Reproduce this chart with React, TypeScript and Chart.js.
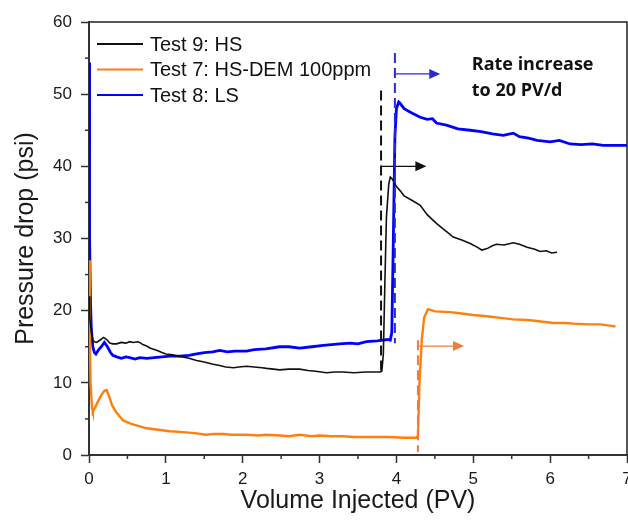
import React, { useEffect, useRef } from "react";
import { Chart, registerables } from "chart.js";

Chart.register(...registerables);

// ---- Data ----
const test9X = [0, 0.01, 0.03, 0.05, 0.07, 0.1, 0.14, 0.19, 0.23, 0.27, 0.31, 0.36, 0.42, 0.48, 0.53, 0.58, 0.63, 0.66, 0.7, 0.75, 0.8, 0.83, 0.88, 0.95, 1.0, 1.09, 1.15, 1.22, 1.3, 1.4, 1.5, 1.6, 1.7, 1.78, 1.88, 1.95, 2.05, 2.15, 2.25, 2.31, 2.4, 2.48, 2.6, 2.74, 2.85, 2.95, 3.09, 3.2, 3.3, 3.45, 3.6, 3.7, 3.79, 3.81, 3.83, 3.85, 3.87, 3.9, 3.92, 3.95, 4.0, 4.05, 4.1, 4.2, 4.31, 4.4, 4.52, 4.6, 4.74, 4.85, 4.96, 5.05, 5.11, 5.18, 5.25, 5.3, 5.4, 5.52, 5.6, 5.7, 5.8, 5.87, 5.95, 6.02, 6.09];
const test9Y = [22, 19, 17, 15.9, 15.7, 15.6, 15.9, 16.3, 16.0, 15.5, 15.4, 15.4, 15.6, 15.5, 15.7, 15.6, 15.7, 15.6, 15.3, 15.1, 14.8, 14.7, 14.5, 14.2, 14.0, 13.9, 13.7, 13.6, 13.4, 13.1, 12.9, 12.6, 12.4, 12.2, 12.1, 12.2, 12.3, 12.2, 12.1, 12.0, 11.9, 11.8, 11.9, 11.9, 11.7, 11.6, 11.4, 11.5, 11.5, 11.4, 11.5, 11.5, 11.5, 11.6, 14, 24, 33, 37.5, 38.5, 38.2, 37.2, 36.6, 35.9, 35.3, 34.6, 33.3, 32.1, 31.4, 30.2, 29.8, 29.3, 28.8, 28.4, 28.6, 29.0, 29.2, 29.1, 29.4, 29.2, 28.8, 28.5, 28.2, 28.3, 28.0, 28.1];

const test7X = [0, 0.01, 0.02, 0.04, 0.05, 0.08, 0.12, 0.16, 0.2, 0.23, 0.26, 0.3, 0.35, 0.44, 0.55, 0.65, 0.75, 0.9, 1.05, 1.18, 1.3, 1.4, 1.52, 1.62, 1.75, 1.85, 2.05, 2.2, 2.3, 2.49, 2.6, 2.74, 2.9, 3.0, 3.15, 3.3, 3.45, 3.6, 3.75, 3.9, 4.1, 4.26, 4.28, 4.3, 4.33, 4.36, 4.41, 4.5, 4.7, 4.85, 5.0, 5.2, 5.35, 5.52, 5.7, 5.8, 6.04, 6.2, 6.3, 6.5, 6.65, 6.8, 6.85];
const test7Y = [27, 18, 10, 6.5, 6.0, 6.6, 7.5, 8.3, 8.9, 9.0, 8.2, 6.9, 6.0, 4.8, 4.3, 4.0, 3.7, 3.5, 3.3, 3.2, 3.1, 3.0, 2.8, 2.9, 2.9, 2.8, 2.8, 2.7, 2.8, 2.7, 2.6, 2.8, 2.6, 2.7, 2.6, 2.6, 2.5, 2.5, 2.5, 2.5, 2.4, 2.4, 2.6, 10, 16, 19, 20.2, 19.9, 19.8, 19.6, 19.4, 19.2, 19.0, 18.8, 18.7, 18.6, 18.3, 18.3, 18.2, 18.1, 18.1, 17.9, 17.8];

const test8X = [0, 0.005, 0.01, 0.02, 0.03, 0.05, 0.07, 0.09, 0.12, 0.16, 0.2, 0.24, 0.28, 0.31, 0.36, 0.42, 0.48, 0.53, 0.6, 0.66, 0.75, 0.85, 0.95, 1.05, 1.18, 1.3, 1.4, 1.5, 1.61, 1.7, 1.8, 1.9, 2.05, 2.15, 2.3, 2.48, 2.6, 2.74, 2.9, 3.05, 3.26, 3.4, 3.5, 3.61, 3.75, 3.89, 3.92, 3.94, 3.96, 3.98, 4.0, 4.03, 4.05, 4.1, 4.2, 4.31, 4.4, 4.47, 4.52, 4.65, 4.8, 4.96, 5.1, 5.25, 5.39, 5.52, 5.6, 5.72, 5.83, 6.0, 6.12, 6.26, 6.4, 6.55, 6.69, 6.85, 7.0];
const test8Y = [54.4, 42, 30, 21, 17.5, 15, 14.2, 14.0, 14.5, 15.0, 15.6, 15.0, 14.2, 13.8, 13.6, 13.4, 13.6, 13.5, 13.3, 13.5, 13.4, 13.5, 13.6, 13.7, 13.7, 13.8, 14.0, 14.2, 14.3, 14.5, 14.3, 14.4, 14.4, 14.6, 14.7, 15.0, 15.0, 14.8, 15.0, 15.2, 15.4, 15.5, 15.4, 15.7, 15.8, 16.0, 15.9, 17, 30, 44, 48, 48.9, 48.7, 48.0, 47.4, 46.8, 46.5, 46.6, 46.0, 45.7, 45.2, 45.0, 44.8, 44.5, 44.3, 44.6, 44.1, 43.9, 43.6, 43.4, 43.6, 43.1, 43.0, 43.1, 42.9, 42.9, 42.9];

const seriesLabels = ["Test 9: HS", "Test 7: HS-DEM 100ppm", "Test 8: LS"];
const seriesColors = ["#111111", "#ff7f0e", "#0000ff"];
const seriesWidths = [1.6, 2.4, 2.8];

// Rate-change markers: dashed vertical line x, top y, bottom y; arrow end x, arrow y
const markerX = [3.8, 3.98, 4.28];
const markerTop = [50.5, 55.7, 15.9];
const markerBottom = [11.5, 15.5, 0.4];
const arrowEndX = [4.39, 4.57, 4.88];
const arrowY = [40, 52.8, 15.1];
const markerColors = ["#111111", "#2a2ad0", "#ee7d3a"];

const noteLines = ["Rate increase", "to 20 PV/d"];
const noteX = 4.98;
const noteY = [54.1, 50.4];

const xTicks = [0, 1, 2, 3, 4, 5, 6, 7];
const yTicks = [0, 10, 20, 30, 40, 50, 60];

const toPoints = (xs: number[], ys: number[]) => xs.map((x, i) => ({ x, y: ys[i] }));

const overlayPlugin = {
  id: "overlay",
  afterDatasetsDraw(chart: any) {
    const { ctx, chartArea, scales } = chart;
    const xs = scales.x;
    const ys = scales.y;
    ctx.save();
    // frame top/right
    ctx.strokeStyle = "#222";
    ctx.lineWidth = 1.5;
    ctx.beginPath();
    ctx.moveTo(chartArea.left, chartArea.top);
    ctx.lineTo(chartArea.right, chartArea.top);
    ctx.lineTo(chartArea.right, chartArea.bottom);
    ctx.stroke();

    // minor ticks
    ctx.strokeStyle = "#333";
    ctx.lineWidth = 1.5;
    for (let i = 0; i < xTicks.length - 1; i++) {
      const px = xs.getPixelForValue((xTicks[i] + xTicks[i + 1]) / 2);
      ctx.beginPath();
      ctx.moveTo(px, chartArea.bottom);
      ctx.lineTo(px, chartArea.bottom + 4);
      ctx.stroke();
    }
    for (let i = 0; i < yTicks.length - 1; i++) {
      const py = ys.getPixelForValue((yTicks[i] + yTicks[i + 1]) / 2);
      ctx.beginPath();
      ctx.moveTo(chartArea.left, py);
      ctx.lineTo(chartArea.left - 4, py);
      ctx.stroke();
    }

    // markers
    for (let i = 0; i < markerX.length; i++) {
      const px = xs.getPixelForValue(markerX[i]);
      const pt = ys.getPixelForValue(markerTop[i]);
      const pb = ys.getPixelForValue(markerBottom[i]);
      ctx.strokeStyle = markerColors[i];
      ctx.fillStyle = markerColors[i];
      ctx.lineWidth = 2;
      ctx.setLineDash([10, 5]);
      ctx.beginPath();
      ctx.moveTo(px, pt);
      ctx.lineTo(px, pb);
      ctx.stroke();
      ctx.setLineDash([]);
      const ay = ys.getPixelForValue(arrowY[i]);
      const ax = xs.getPixelForValue(arrowEndX[i]);
      ctx.lineWidth = 1.3;
      ctx.beginPath();
      ctx.moveTo(px, ay);
      ctx.lineTo(ax - 10, ay);
      ctx.stroke();
      ctx.beginPath();
      ctx.moveTo(ax, ay);
      ctx.lineTo(ax - 11, ay - 5);
      ctx.lineTo(ax - 11, ay + 5);
      ctx.closePath();
      ctx.fill();
    }

    // note
    ctx.fillStyle = "#111";
    ctx.font = "bold 18px 'Open Sans', sans-serif";
    ctx.textAlign = "left";
    ctx.textBaseline = "middle";
    noteLines.forEach((t, i) => {
      ctx.fillText(t, xs.getPixelForValue(noteX), ys.getPixelForValue(noteY[i]));
    });

    // legend
    ctx.font = "20px 'Liberation Sans', Arial, sans-serif";
    ctx.textBaseline = "middle";
    const lx = chartArea.left + 8;
    const ly = chartArea.top + 22;
    chart.data.datasets.forEach((ds: any, i: number) => {
      const y = ly + i * 25.5;
      ctx.strokeStyle = ds.borderColor;
      ctx.lineWidth = 2;
      ctx.beginPath();
      ctx.moveTo(lx, y);
      ctx.lineTo(lx + 46, y);
      ctx.stroke();
      ctx.fillStyle = "#111";
      ctx.fillText(ds.label, lx + 53, y + 1);
    });
    ctx.restore();
  },
};

export default function App() {
  const ref = useRef<HTMLCanvasElement | null>(null);
  useEffect(() => {
    document.body.style.margin = "0";
    const canvas = ref.current;
    if (!canvas) return;
    const tickFont = { family: "'Liberation Sans', Arial, sans-serif", size: 17 };
    const chart = new Chart(canvas, {
      type: "scatter",
      data: {
        datasets: [
          { label: seriesLabels[0], data: toPoints(test9X, test9Y), borderColor: seriesColors[0], borderWidth: seriesWidths[0] },
          { label: seriesLabels[1], data: toPoints(test7X, test7Y), borderColor: seriesColors[1], borderWidth: seriesWidths[1] },
          { label: seriesLabels[2], data: toPoints(test8X, test8Y), borderColor: seriesColors[2], borderWidth: seriesWidths[2] },
        ].map((d) => ({ ...d, showLine: true, pointRadius: 0, tension: 0, fill: false, backgroundColor: d.borderColor })),
      },
      options: {
        responsive: false,
        animation: false,
        layout: { padding: { top: 22, right: 1, left: 0, bottom: 0 } },
        plugins: { legend: { display: false }, tooltip: { enabled: false } },
        scales: {
          x: {
            type: "linear",
            min: 0,
            max: 7,
            afterBuildTicks: (s: any) => { s.ticks = xTicks.map((v) => ({ value: v })); },
            afterFit: (s: any) => { s.height = 66; s.paddingLeft = 0; s.paddingRight = 0; },
            ticks: { font: tickFont, color: "#1a1a1a", padding: 6, maxRotation: 0, autoSkip: false },
            grid: { drawOnChartArea: false, tickLength: 8, tickWidth: 1.5, tickColor: "#333" },
            border: { display: true, color: "#333", width: 2 },
            title: { display: true, text: "Volume Injected (PV)", font: { family: "'Liberation Sans', Arial, sans-serif", size: 25 }, color: "#1a1a1a", padding: { top: 0, bottom: 5 } },
          },
          y: {
            type: "linear",
            min: 0,
            max: 60,
            afterBuildTicks: (s: any) => { s.ticks = yTicks.map((v) => ({ value: v })); },
            afterFit: (s: any) => { s.width = 89; s.paddingTop = 0; s.paddingBottom = 0; },
            ticks: { font: tickFont, color: "#1a1a1a", padding: 9, autoSkip: false },
            grid: { drawOnChartArea: false, tickLength: 8, tickWidth: 1.5, tickColor: "#333" },
            border: { display: true, color: "#333", width: 2 },
            title: { display: true, text: "Pressure drop (psi)", font: { family: "'Liberation Sans', Arial, sans-serif", size: 25 }, color: "#1a1a1a", padding: { top: 11, bottom: 0 } },
          },
        },
      },
      plugins: [overlayPlugin],
    } as any);
    return () => chart.destroy();
  }, []);
  return (
    <canvas
      ref={ref}
      width={628}
      height={521}
      style={{ display: "block", position: "absolute", left: 0, top: 0, width: 628, height: 521 }}
    />
  );
}
